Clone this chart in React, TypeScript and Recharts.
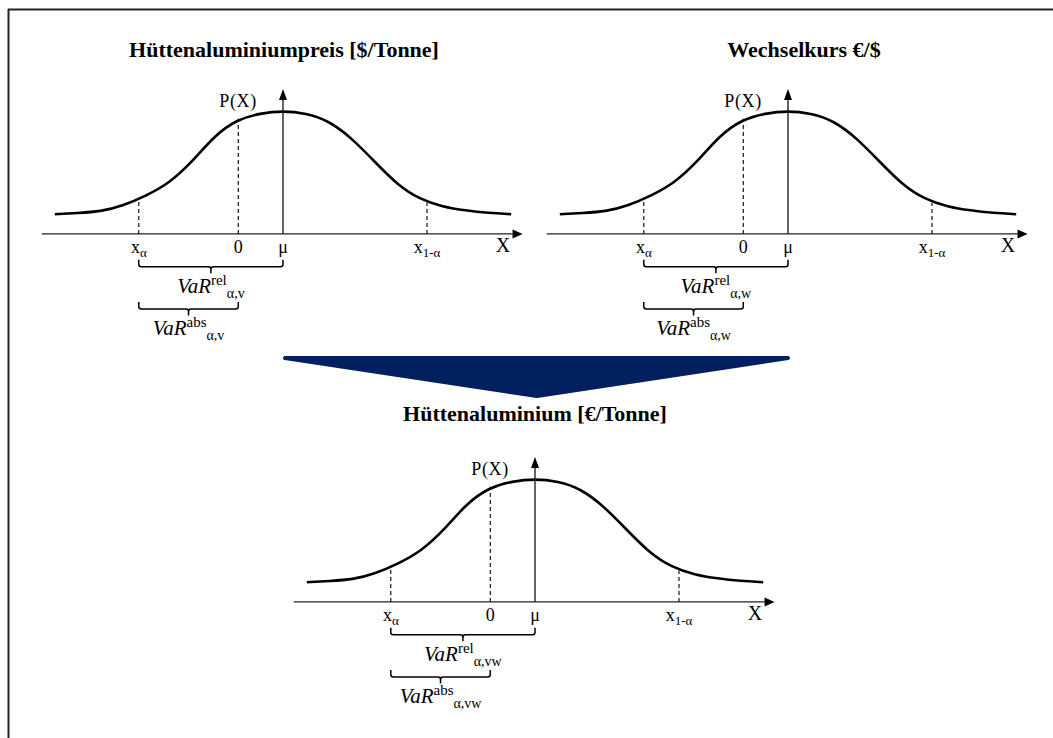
import React from "react";
import { LineChart, Line, XAxis, YAxis, ReferenceLine, ReferenceDot } from "recharts";

// density curve (peak = 1)
const curveX = [-10, -9, -8, -7, -6, -5, -4, -3, -2, -1, 0, 1, 2, 3, 4, 5, 6, 7, 8, 9, 10];
const curveY = [0.16, 0.17, 0.18, 0.23, 0.31, 0.41, 0.58, 0.8, 0.93, 0.98, 1.0, 0.98, 0.92, 0.78, 0.59, 0.4, 0.28, 0.22, 0.19, 0.17, 0.16];

// marks on the x axis: x_alpha, 0, mu, x_(1-alpha)
const tickPos = [-6.32, -1.96, 0, 6.31];
const tickMain = ["x", "0", "μ", "x"];
const tickSub = ["α", "", "", "1-α"];
const dashTop = [0.276, 0.935, 0, 0.255];

const axisXFrom = -10.57;
const axisXTo = 10.5;
const axisYTop = 1.176;
const pLabelX = -1.97;
const pLabelY = 1.03;
const xLabelX = 9.64;

// braces: rel (x_alpha..mu) and abs (x_alpha..0)
const braceSup = ["rel", "abs"];
const braceFrom = [-6.32, -6.32];
const braceTo = [0, -1.96];
const braceLevel = [-0.266, -0.61];
const braceLabelY = [-0.48, -0.82];

const panels = [
  { title: "Hüttenaluminiumpreis [$/Tonne]", sub: "α,v", left: 32, top: 80, titleX: 284, titleY: 57 },
  { title: "Wechselkurs €/$", sub: "α,w", left: 537, top: 80, titleX: 804, titleY: 57 },
  { title: "Hüttenaluminium [€/Tonne]", sub: "α,vw", left: 284, top: 448, titleX: 535, titleY: 421 },
];

const W = 502;
const H = 277;
const font = "'Liberation Serif', 'Times New Roman', serif";
const axisColor = "#222";

const HArrow = (p: any) => {
  const { x1, y1, x2 } = p;
  return (
    <g>
      <line x1={x1} y1={y1} x2={x2 - 8} y2={y1} stroke={axisColor} strokeWidth={1.4} />
      <polygon points={`${x2},${y1} ${x2 - 10},${y1 - 4.5} ${x2 - 10},${y1 + 4.5}`} fill="#000" />
    </g>
  );
};

const VArrow = (p: any) => {
  const { x1, y1, y2 } = p;
  const top = Math.min(y1, y2);
  const bot = Math.max(y1, y2);
  return (
    <g>
      <line x1={x1} y1={bot} x2={x1} y2={top + 8} stroke={axisColor} strokeWidth={1.4} />
      <polygon points={`${x1},${top} ${x1 - 4},${top + 11} ${x1 + 4},${top + 11}`} fill="#000" />
    </g>
  );
};

const Brace = (p: any) => {
  const { x1, x2, y1 } = p;
  const y = y1;
  const a = Math.min(x1, x2);
  const b = Math.max(x1, x2);
  const m = (a + b) / 2;
  const r = 2.5;
  const d =
    `M${a},${y - 7} L${a},${y - r} Q${a},${y} ${a + r},${y} L${m - r},${y} Q${m},${y} ${m},${y + r} L${m},${y + 6.5} ` +
    `M${m},${y + r} Q${m},${y} ${m + r},${y} L${b - r},${y} Q${b},${y} ${b},${y - r} L${b},${y - 7}`;
  return <path d={d} fill="none" stroke="#000" strokeWidth={1.5} />;
};

function Panel({ sub, left, top }: { sub: string; left: number; top: number }) {
  const data = curveX.map((x, i) => ({ x, y: curveY[i] }));
  return (
    <div style={{ position: "absolute", left, top, width: W, height: H }}>
      <LineChart width={W} height={H} data={data} margin={{ top: 0, right: 0, bottom: 0, left: 0 }}>
        <XAxis dataKey="x" type="number" domain={[-11, 11]} hide allowDataOverflow />
        <YAxis type="number" domain={[-1, 1.25]} hide allowDataOverflow />
        {tickPos.map((t, i) =>
          dashTop[i] > 0 ? (
            <ReferenceLine
              key={"d" + i}
              segment={[{ x: t, y: 0 }, { x: t, y: dashTop[i] }]}
              stroke="#000"
              strokeWidth={1.1}
              strokeDasharray="4 3"
              ifOverflow="visible"
            />
          ) : null
        )}
        <Line type="basis" dataKey="y" stroke="#000" strokeWidth={2.6} dot={false} isAnimationActive={false} />
        <ReferenceLine segment={[{ x: axisXFrom, y: 0 }, { x: axisXTo, y: 0 }]} shape={HArrow} ifOverflow="visible" />
        <ReferenceLine segment={[{ x: 0, y: 0 }, { x: 0, y: axisYTop }]} shape={VArrow} ifOverflow="visible" />
        {tickPos.map((t, i) => (
          <ReferenceDot
            key={"t" + i}
            x={t}
            y={0}
            r={0}
            ifOverflow="visible"
            shape={(p: any) => (
              <text x={p.cx} y={p.cy + 19} textAnchor="middle" fontFamily={font} fontSize={18} fill="#000">
                {tickMain[i]}
                {tickSub[i] ? (
                  <tspan fontSize={13} dy={4}>
                    {tickSub[i]}
                  </tspan>
                ) : null}
              </text>
            )}
          />
        ))}
        <ReferenceDot
          x={xLabelX}
          y={0}
          r={0}
          ifOverflow="visible"
          shape={(p: any) => (
            <text x={p.cx} y={p.cy + 18} textAnchor="middle" fontFamily={font} fontSize={20} fill="#000">
              X
            </text>
          )}
        />
        <ReferenceDot
          x={pLabelX}
          y={pLabelY}
          r={0}
          ifOverflow="visible"
          shape={(p: any) => (
            <text x={p.cx} y={p.cy} textAnchor="middle" fontFamily={font} fontSize={18} fill="#000" letterSpacing={0.6}>
              P(X)
            </text>
          )}
        />
        {braceSup.map((s, i) => (
          <ReferenceLine
            key={"b" + i}
            segment={[{ x: braceFrom[i], y: braceLevel[i] }, { x: braceTo[i], y: braceLevel[i] }]}
            shape={Brace}
            ifOverflow="visible"
          />
        ))}
        {braceSup.map((s, i) => (
          <ReferenceDot
            key={"bl" + i}
            x={(braceFrom[i] + braceTo[i]) / 2}
            y={braceLabelY[i]}
            r={0}
            ifOverflow="visible"
            shape={(p: any) => (
              <text x={p.cx} y={p.cy} textAnchor="middle" fontFamily={font} fill="#000">
                <tspan fontStyle="italic" fontSize={21}>
                  VaR
                </tspan>
                <tspan fontSize={15} dy={-8}>
                  {s}
                </tspan>
                <tspan fontSize={14} dy={13}>
                  {sub}
                </tspan>
              </text>
            )}
          />
        ))}
      </LineChart>
    </div>
  );
}

export default function App() {
  return (
    <div style={{ position: "absolute", left: 0, top: 0, width: 1053, height: 738, background: "#fff", overflow: "hidden" }}>
      <svg width={1053} height={738} style={{ position: "absolute", left: 0, top: 0 }}>
        <line x1={8} y1={9.5} x2={1053} y2={9.5} stroke="#222" strokeWidth={2} />
        <line x1={8.5} y1={9} x2={8.5} y2={738} stroke="#222" strokeWidth={2} />
        <polygon points="285,358 788,358 537,396" fill="#002060" stroke="#002060" strokeWidth={4} strokeLinejoin="round" />
        {panels.map((p) => (
          <text
            key={p.title}
            x={p.titleX}
            y={p.titleY}
            textAnchor="middle"
            fontFamily={font}
            fontWeight="bold"
            fontSize={22}
            fill="#000"
          >
            {p.title}
          </text>
        ))}
      </svg>
      {panels.map((p) => (
        <Panel key={p.title} sub={p.sub} left={p.left} top={p.top} />
      ))}
    </div>
  );
}
